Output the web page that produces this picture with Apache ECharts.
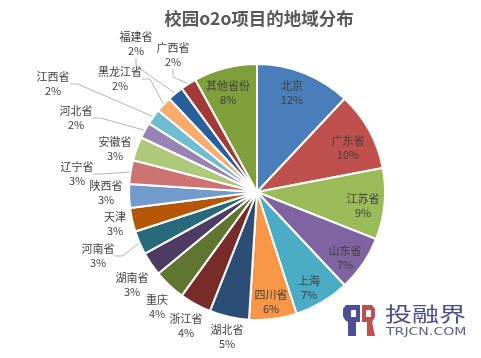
<!DOCTYPE html>
<html><head><meta charset="utf-8">
<style>html,body{margin:0;padding:0;background:#fff}#c{width:481px;height:358px}</style>
<script src="https://cdn.jsdelivr.net/npm/echarts@6/dist/echarts.min.js"></script></head>
<body><div id="c"></div>
<script>
const categories=['北京','广东省','江苏省','山东省','上海','四川省','湖北省','浙江省','重庆','湖南省','河南省','天津','陕西省','辽宁省','安徽省','河北省','江西省','黑龙江省','福建省','广西省','其他省份'];
const values=[12,10,9,7,7,6,5,4,4,3,3,3,3,3,3,2,2,2,2,2,8];
const colors=['#4a7ebb','#c0504d','#9bbb59','#8064a2','#4bacc6','#f79646','#2c4d75','#772c2a','#5f7530','#4d3b62','#276a7c','#b65708','#729aca','#cd7371','#afc97a','#9983b5','#6fbdd1','#f9ab6b','#2a5f9e','#a33a3a','#7f9f3b'];
const labelCentres=[[292,93],[348,148],[363,206],[345,258],[309,288],[271,302],[227,337],[186,326],[157,307],[132,285],[98,256],[115,224],[106,193],[77,174],[115,149],[76,118],[53,84],[120,79],[136,44],[173,55],[228,93]];
const withLeader=['辽宁省','河南省','河北省','江西省','黑龙江省','福建省','广西省'];
const chart=echarts.init(document.getElementById('c'));
chart.setOption({
 animation:false,backgroundColor:'#fff',
 title:{text:'校园o2o项目的地域分布',left:254,top:5,textAlign:'center',textStyle:{fontFamily:'"Noto Sans CJK SC"',fontSize:17.5,fontWeight:'bold',color:'#595959'}},
 series:[{type:'pie',center:[257,192],radius:[0,128],startAngle:90,clockwise:true,
  data:categories.map((n,i)=>({name:n,value:values[i],itemStyle:{color:colors[i]},labelLine:{show:withLeader.includes(n)}})),
  itemStyle:{borderColor:'#fff',borderWidth:2},
  label:{show:true,position:'outside',formatter:'{b}\n{c}%',fontFamily:'"Noto Sans CJK SC"',fontSize:11,lineHeight:14,color:'#404040',align:'center',verticalAlign:'middle'},
  labelLine:{show:true,length:8,length2:8,lineStyle:{color:'#b5b5b5',width:1}},
  labelLayout:p=>({x:labelCentres[p.dataIndex][0],y:labelCentres[p.dataIndex][1],align:'center',verticalAlign:'middle',moveOverlap:false})
 }],
 graphic:[
  {type:'polygon',shape:{points:[[343,316],[343,309],[346,305],[360,305],[360,322],[356,322],[356,336],[348,336],[348,322],[345,320]]},style:{fill:'#4a4f96'}},
  {type:'rect',shape:{x:351,y:310,width:5,height:7},style:{fill:'#fff'}},
  {type:'polygon',shape:{points:[[362,305],[372,305],[375,309],[375,317],[372,322],[375,336],[367,336],[367,322],[362,322]]},style:{fill:'#c0504d'}},
  {type:'rect',shape:{x:366,y:310,width:5,height:7},style:{fill:'#fff'}},
  {type:'text',x:385,y:314,scaleY:0.75,style:{text:'投融界',verticalAlign:'middle',font:'27px "Noto Sans CJK SC"',fill:'#4a4f8f'}},
  {type:'text',x:386,y:332,scaleX:1.28,style:{text:'TRJCN.COM',verticalAlign:'middle',font:'11px "DejaVu Sans"',fill:'#5a5f98'}}
 ]
});
</script></body></html>
